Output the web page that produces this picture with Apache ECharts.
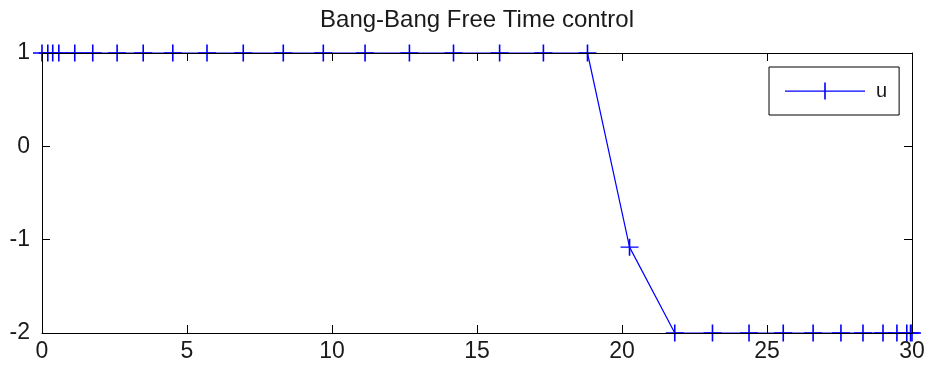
<!DOCTYPE html>
<html>
<head>
<meta charset="utf-8">
<script src="https://cdn.jsdelivr.net/npm/echarts@6/dist/echarts.min.js"></script>
<style>
html,body{margin:0;padding:0;background:#fff;}
#chart{width:928px;height:373px;}
</style>
</head>
<body>
<div id="chart"></div>
<script>
var titleText = 'Bang-Bang Free Time control';
var seriesName = 'u';
var tValues = [0, 0.2, 0.37, 0.58, 1.13, 1.75, 2.59, 3.49, 4.51, 5.69, 6.94, 8.32, 9.70, 11.14, 12.67, 14.19, 15.78, 17.29, 18.81,
               20.26,
               21.82, 23.12, 24.38, 25.56, 26.59, 27.55, 28.31, 29.0, 29.48, 29.82, 29.95, 30.0];
var uValues = [1, 1, 1, 1, 1, 1, 1, 1, 1, 1, 1, 1, 1, 1, 1, 1, 1, 1, 1,
               -1.08,
               -2, -2, -2, -2, -2, -2, -2, -2, -2, -2, -2, -2];
var xTicks = [0, 5, 10, 15, 20, 25, 30];
var yTicks = [-2, -1, 0, 1];

var font = 'Liberation Sans, Arial, sans-serif';
var chart = echarts.init(document.getElementById('chart'), null, {renderer: 'canvas'});
var data = tValues.map(function (t, i) { return [t, uValues[i]]; });

function xAxisCfg(pos, showLabel) {
  return {
    type: 'value', position: pos, min: xTicks[0], max: xTicks[xTicks.length - 1],
    interval: xTicks[1] - xTicks[0], z: 5,
    axisLine: {show: true, onZero: false, lineStyle: {color: '#000', width: 1}},
    axisTick: {show: true, inside: true, length: 8, lineStyle: {color: '#000', width: 1}},
    axisLabel: {show: showLabel, margin: 7, color: '#1a1a1a', fontSize: 23, fontFamily: font},
    splitLine: {show: false}
  };
}
function yAxisCfg(pos, showLabel) {
  return {
    type: 'value', position: pos, min: yTicks[0], max: yTicks[yTicks.length - 1],
    interval: yTicks[1] - yTicks[0], z: 5,
    axisLine: {show: true, onZero: false, lineStyle: {color: '#000', width: 1}},
    axisTick: {show: true, inside: true, length: 8, lineStyle: {color: '#000', width: 1}},
    axisLabel: {show: showLabel, margin: 12, color: '#1a1a1a', fontSize: 23, fontFamily: font},
    splitLine: {show: false}
  };
}

chart.setOption({
  animation: false,
  backgroundColor: '#fff',
  title: {
    text: titleText, left: 477, textAlign: 'center', top: 8, padding: 0,
    textStyle: {fontSize: 24, fontWeight: 'normal', color: '#1a1a1a', fontFamily: font}
  },
  grid: {left: 42, right: 16, top: 53, bottom: 40, containLabel: false},
  xAxis: [xAxisCfg('bottom', true), xAxisCfg('top', false)],
  yAxis: [yAxisCfg('left', true), yAxisCfg('right', false)],
  legend: {
    left: 769, top: 67, orient: 'horizontal', z: 10,
    padding: [14, 12, 14, 16],
    borderColor: '#000', borderWidth: 1, backgroundColor: '#fff',
    itemWidth: 80, itemHeight: 17,
    icon: 'path://M0,8h80v1.3h-80z M39.2,0h1.6v17h-1.6z',
    textStyle: {fontSize: 20, color: '#1a1a1a', fontFamily: font, padding: [0, 0, 0, 6]},
    data: [{name: seriesName, itemStyle: {color: '#0000ff', borderWidth: 0}}]
  },
  series: [{
    name: seriesName, type: 'line', data: data, xAxisIndex: 0, yAxisIndex: 0, z: 1,
    symbol: 'path://M0,7.8h18v1.4h-18z M8.2,0h1.6v17h-1.6z', symbolSize: [18, 17],
    itemStyle: {color: '#0000ff', borderWidth: 0},
    lineStyle: {color: '#0000ff', width: 1.2},
    clip: false
  }]
});
</script>
</body>
</html>
